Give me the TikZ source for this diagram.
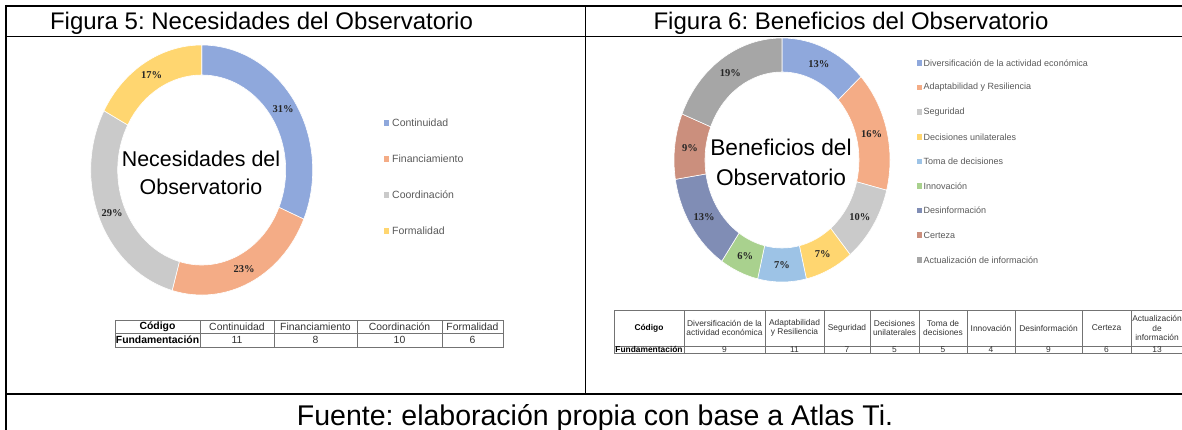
\documentclass[tikz,border=0pt]{standalone}
\usepackage{fontspec}
\setmainfont{Liberation Sans}
\newfontfamily\pctfont{Liberation Serif}
\usetikzlibrary{calc,positioning}
\frenchspacing

\definecolor{cblue}{RGB}{143,168,220}
\definecolor{corange}{RGB}{244,172,134}
\definecolor{cgray}{RGB}{202,202,202}
\definecolor{cyellow}{RGB}{255,214,112}
\definecolor{clblue}{RGB}{157,195,230}
\definecolor{cgreen}{RGB}{169,209,142}
\definecolor{cdblue}{RGB}{128,141,181}
\definecolor{cbrown}{RGB}{203,143,125}
\definecolor{cdgray}{RGB}{166,166,166}
\definecolor{legtext}{RGB}{89,89,89}

\begin{document}
\begin{tikzpicture}[%
      x=1pt, y=1pt,             % one unit is one pixel of the page
      ]
  \tikzset{
    rule/.style={draw, line width=#1},
    title/.style={font=\fontsize{24}{28}\selectfont, inner sep=0, anchor=base},
    hole/.style={align=center, inner sep=0},
    pct/.style={font=\pctfont\bfseries\fontsize{10.5}{12}\selectfont, text=black!85, inner sep=0},
    leg/.style={text=legtext, anchor=west, inner sep=0},
    swatch/.style={minimum size=5.5pt, inner sep=0},
    cell/.style={draw=black!55, line width=0.5pt, inner sep=0, align=center, text=black!80},
    bcell/.style={inner sep=0, text=black, font=\bfseries\fontsize{#1}{#1}\selectfont},
  }
  \useasboundingbox (0,0) rectangle (1182,-430);

  % Frame of the table
  \draw [rule=1.5pt] (5,-6)     -- (1182,-6);
  \draw [rule=1pt]   (6,-37)    -- (1182,-37);
  \draw [rule=2pt]   (6,-5)     -- (6,-430);
  \draw [rule=1.5pt] (585.5,-6) -- (585.5,-394);
  \draw [rule=2pt]   (6,-394)   -- (1182,-394);

  % Captions
  \node [title] (t5)  at (261.5,-30) {Figura 5: Necesidades del Observatorio};
  \node [title] (t6)  at (851,-30)   {Figura 6: Beneficios del Observatorio};
  \node [title, font=\fontsize{28.5}{32}\selectfont] (src) at (595,-425)
    {Fuente: elaboración propia con base a Atlas Ti.};

  % Donut of figure 5
  \def\angA{90}
  \begin{scope}[shift={(201.7,-170)}]
    \foreach \n/\col/\pc [count=\i] in {11/cblue/31\%, 8/corange/23\%, 10/cgray/29\%, 6/cyellow/17\%}{
      \pgfmathsetmacro\angB{\angA-\n*360/35}
      \pgfmathsetmacro\angM{(\angA+\angB)/2}
      \fill [\col, draw=white, line width=0.6pt]
        (\angA:111 and 125) arc [start angle=\angA, end angle=\angB, x radius=111, y radius=125]
        -- (\angB:84 and 95) arc [start angle=\angB, end angle=\angA, x radius=84, y radius=95] -- cycle;
      \node [pct] (p5-\i) at (\angM:97.5 and 110) {\pc};
      \xdef\angA{\angB}
    }
  \end{scope}
  \node [hole, font=\fontsize{21.4}{28}\selectfont] (h5) at (201,-173) {Necesidades del\\Observatorio};

  % Legend of figure 5
  \foreach \col/\txt [count=\i] in {cblue/Continuidad, corange/Financiamiento, cgray/Coordinación, cyellow/Formalidad}{
    \node [swatch, fill=\col] (s5-\i) at (386.5,-87-36*\i) {};
    \node [leg, font=\fontsize{10.5}{12}\selectfont] (l5-\i) at (392,-87-36*\i) {\txt};
  }

  % Table of figure 5
  \foreach \xa/\xb/\hd/\vl [count=\i] in {115/200/{}/{}, 200/274/Continuidad/11,
      274/357/Financiamiento/8, 357/442/Coordinación/10, 442/503/Formalidad/6}{
    \node [cell, font=\fontsize{10.4}{11}\selectfont, minimum width={(\xb-\xa)*1pt}, minimum height=13pt]
      (a-h\i) at ({(\xa+\xb)/2},-326.5) {\hd};
    \node [cell, font=\fontsize{10.4}{11}\selectfont, minimum width={(\xb-\xa)*1pt}, minimum height=14pt]
      (a-d\i) at ({(\xa+\xb)/2},-340) {\vl};
  }
  \node [bcell=10.4] (a-c) at (a-h1) {Código};
  \node [bcell=10.4] (a-f) at (a-d1) {Fundamentación};

  % Donut of figure 6
  \def\angA{90}
  \begin{scope}[shift={(782,-160)}]
    \foreach \n/\col/\pc [count=\i] in {9/cblue/13\%, 11/corange/16\%, 7/cgray/10\%, 5/cyellow/7\%,
        5/clblue/7\%, 4/cgreen/6\%, 9/cdblue/13\%, 6/cbrown/9\%, 13/cdgray/19\%}{
      \pgfmathsetmacro\angB{\angA-\n*360/69}
      \pgfmathsetmacro\angM{(\angA+\angB)/2}
      \fill [\col, draw=white, line width=0.6pt]
        (\angA:108 and 122) arc [start angle=\angA, end angle=\angB, x radius=108, y radius=122]
        -- (\angB:77 and 88) arc [start angle=\angB, end angle=\angA, x radius=77, y radius=88] -- cycle;
      \node [pct] (p6-\i) at (\angM:92.5 and 105) {\pc};
      \xdef\angA{\angB}
    }
  \end{scope}
  \node [hole, font=\fontsize{22.7}{30}\selectfont] (h6) at (781,-162) {Beneficios del\\Observatorio};

  % Legend of figure 6
  \foreach \col/\txt [count=\i] in {cblue/Diversificación de la actividad económica,
      corange/Adaptabilidad y Resiliencia, cgray/Seguridad, cyellow/Decisiones unilaterales,
      clblue/Toma de decisiones, cgreen/Innovación, cdblue/Desinformación, cbrown/Certeza,
      cdgray/Actualización de información}{
    \node [swatch, fill=\col] (s6-\i) at (919.5,-38.4-24.6*\i) {};
    \node [leg, font=\fontsize{9}{10}\selectfont] (l6-\i) at (923.5,-38.4-24.6*\i) {\txt};
  }

  % Table of figure 6
  \foreach \xa/\xb/\hd/\vl [count=\i] in {614/684/{}/{},
      684/765/{Diversificación de la\\actividad económica}/9, 765/824/{Adaptabilidad\\y Resiliencia}/11,
      824/870/Seguridad/7, 870/919/{Decisiones\\unilaterales}/5, 919/967/{Toma de\\decisiones}/5,
      967/1015/Innovación/4, 1015/1082/Desinformación/9, 1082/1131/Certeza/6,
      1131/1183/{Actualización\\de\\información}/13}{
    \node [cell, font=\fontsize{8.4}{9.4}\selectfont, minimum width={(\xb-\xa)*1pt}, minimum height=36pt]
      (b-h\i) at ({(\xa+\xb)/2},-328) {\hd};
    \node [cell, font=\fontsize{8.4}{9.4}\selectfont, text height=5.6pt, text depth=1pt,
      minimum width={(\xb-\xa)*1pt}, minimum height=7.5pt]
      (b-d\i) at ({(\xa+\xb)/2},-349.8) {\vl};
  }
  \node [bcell=8.4] (b-c) at (b-h1) {Código};
  \node [bcell=8.4, text height=5.6pt, text depth=1pt] (b-f) at (b-d1) {Fundamentación};
\end{tikzpicture}
\end{document}
